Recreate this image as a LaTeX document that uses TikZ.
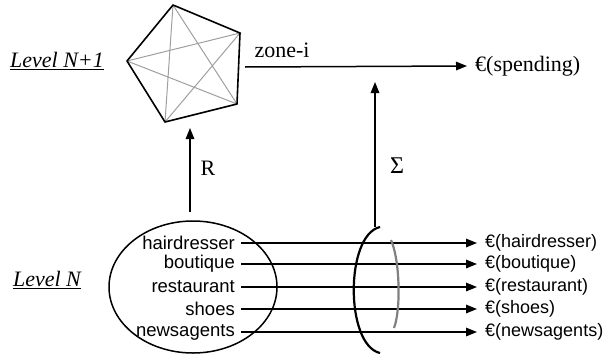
\documentclass[tikz,border=0pt]{standalone}
\usepackage{fontspec}
\setmainfont{Liberation Serif}
\setsansfont{Liberation Sans}
\usetikzlibrary{arrows.meta,shapes.geometric}
\begin{document}
\begin{tikzpicture}[x=1pt,y=-1pt,
  arr/.style={-{Triangle[length=11pt,width=8.5pt]},line width=1.5pt},
  serif/.style={font=\fontsize{22}{26}\selectfont},
  item/.style={font=\sffamily\fontsize{18.5}{21}\selectfont,anchor=east,inner sep=6pt},
  euro/.style={font=\sffamily\fontsize{18}{21}\selectfont,anchor=west,inner sep=8pt},
  lvl/.style={font=\fontsize{22}{26}\selectfont\itshape}]
\useasboundingbox (0,0) rectangle (604,356);
% pentagon
\coordinate (p1) at (173,5);
\coordinate (p2) at (240,33);
\coordinate (p3) at (237,104);
\coordinate (p4) at (165,122);
\coordinate (p5) at (127,61);
\draw[gray!75,line width=1pt] (p1) -- (p3) -- (p5) -- (p2) -- (p4) -- cycle;
\draw[line width=1.6pt,line join=round] (p1) -- (p2) -- (p3) -- (p4) -- (p5) -- cycle;
% labels
\node[lvl] (l1) at (57,61) {\underline{Level N+1}};
\node[lvl] (l0) at (47,280) {\underline{Level N}};
\node[serif] (zone) at (282,50) {zone-i};
\node[serif,anchor=west,inner sep=8pt] (sp) at (467,66) {€(spending)};
\coordinate (zs) at (245,67);
\draw[arr] (zs) -- (sp.west);
% ellipse
\node[ellipse,draw,line width=1.5pt,minimum width=168pt,minimum height=132pt] (ell) at (193,287) {};
\coordinate (rs) at (190,212);
\coordinate (re) at (190,128);
\draw[arr] (rs) -- (re);
\node[serif] (rl) at (208,168) {R};
% items
\node[item] (i1) at (241,243) {hairdresser};
\node[item] (i2) at (241,264) {boutique};
\node[item] (i3) at (241,287) {restaurant};
\node[item] (i4) at (241,309) {shoes};
\node[item] (i5) at (241,332) {newsagents};
\node[euro] (e1) at (477,243) {€(hairdresser)};
\node[euro] (e2) at (477,264) {€(boutique)};
\node[euro] (e3) at (477,287) {€(restaurant)};
\node[euro] (e4) at (477,309) {€(shoes)};
\node[euro] (e5) at (477,332) {€(newsagents)};
\foreach \k in {1,...,5} \draw[arr] (i\k.east) -- (e\k.west);
% brackets
\coordinate (bt) at (380,227);
\coordinate (bb) at (380,353);
\draw[line width=2.2pt] (bt) .. controls (345,235) and (345,345) .. (bb);
\draw[gray,line width=2.2pt] (391,240) .. controls (400,260) and (401,310) .. (394,328);
\coordinate (st) at (375,82);
\coordinate (sb) at (375,227);
\draw[arr] (sb) -- (st);
\node[serif,font=\fontsize{24}{28}\selectfont] (sl) at (397,166) {Σ};
\end{tikzpicture}
\end{document}
